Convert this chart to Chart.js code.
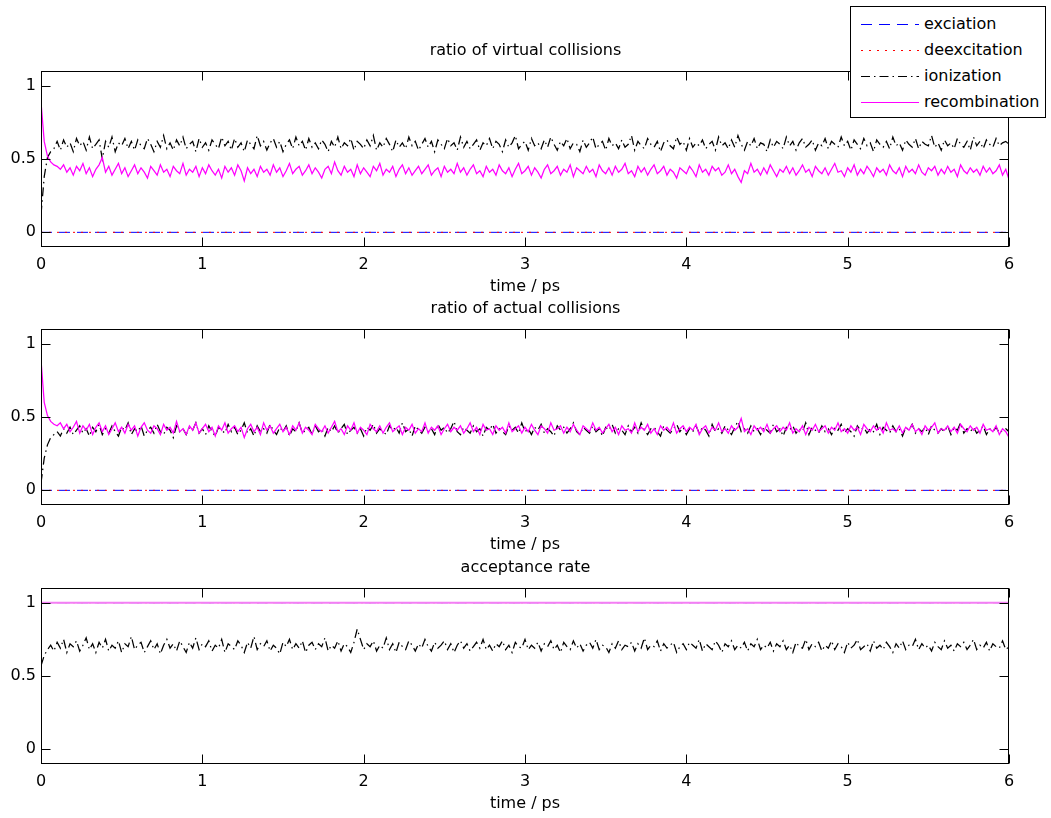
<!DOCTYPE html>
<html>
<head>
<meta charset="utf-8">
<script src="https://cdn.jsdelivr.net/npm/chart.js@4.4.1/dist/chart.umd.min.js"></script>
<style>
  html, body { margin: 0; padding: 0; background: #fff; }
  #fig { position: relative; width: 1051px; height: 818px; overflow: hidden; background: #fff; }
  #fig canvas { position: absolute; left: 0; width: 1051px; height: 271px; }
  #legend {
    position: absolute; left: 850px; top: 6px; width: 194px; height: 110px;
    border: 1px solid #000; background: #fff;
    font: 16px 'DejaVu Sans', sans-serif; color: #000;
  }
  .legend-row { position: absolute; left: 10px; height: 20px; line-height: 20px; display: flex; align-items: center; white-space: nowrap; }
  .legend-row svg { width: 58px; height: 20px; margin-right: 5px; }
</style>
</head>
<body>
<div id="fig">
  <canvas id="virtualChart" width="1051" height="271" style="top:31px"></canvas>
  <canvas id="actualChart" width="1051" height="271" style="top:289px"></canvas>
  <canvas id="acceptChart" width="1051" height="271" style="top:548px"></canvas>
  <div id="legend"></div>
</div>
<script>
const seriesNames = ['exciation', 'deexcitation', 'ionization', 'recombination'];
const plotTitles = ['ratio of virtual collisions', 'ratio of actual collisions', 'acceptance rate'];
const xTickValues = [0, 1, 2, 3, 4, 5, 6];
const yTickValues = [0, 0.5, 1];
const timeStep = 0.02;

// flat levels, start and end of the run
const levelTimes = [0, 6];
const virtualExc = [0, 0];
const virtualDeexc = [0, 0];
const actualExc = [0, 0];
const actualDeexc = [0, 0];
const acceptExc = [1, 1];
const acceptDeexc = [1, 1];
const acceptRec = [1, 1];

// noisy series, one value every timeStep ps
const virtualIon = [
  0.12,0.38,0.51,0.55,0.57,0.62,0.56,0.63,0.58,0.61,
  0.55,0.64,0.59,0.62,0.56,0.65,0.57,0.60,0.63,0.50,
  0.62,0.58,0.65,0.55,0.61,0.59,0.64,0.57,0.62,0.56,
  0.63,0.59,0.57,0.64,0.60,0.55,0.62,0.58,0.66,0.57,
  0.61,0.56,0.63,0.59,0.65,0.57,0.60,0.62,0.55,0.64,
  0.58,0.61,0.56,0.63,0.60,0.57,0.65,0.59,0.62,0.56,
  0.64,0.58,0.61,0.55,0.63,0.60,0.57,0.66,0.59,0.62,
  0.56,0.61,0.64,0.58,0.62,0.55,0.60,0.63,0.57,0.65,
  0.59,0.62,0.56,0.64,0.58,0.61,0.57,0.63,0.60,0.55,
  0.62,0.58,0.65,0.57,0.61,0.59,0.64,0.56,0.62,0.60,
  0.57,0.63,0.59,0.66,0.56,0.61,0.58,0.64,0.60,0.55,
  0.63,0.58,0.61,0.57,0.65,0.59,0.62,0.56,0.60,0.64,
  0.58,0.62,0.55,0.63,0.60,0.57,0.64,0.59,0.61,0.56,
  0.65,0.58,0.62,0.57,0.60,0.63,0.56,0.61,0.59,0.64,
  0.57,0.62,0.60,0.55,0.63,0.58,0.61,0.66,0.57,0.60,
  0.62,0.56,0.64,0.59,0.61,0.57,0.63,0.58,0.65,0.60,
  0.56,0.62,0.59,0.64,0.57,0.61,0.60,0.55,0.63,0.58,
  0.61,0.65,0.57,0.60,0.62,0.56,0.64,0.59,0.61,0.57,
  0.63,0.58,0.60,0.66,0.56,0.62,0.59,0.57,0.64,0.60,
  0.58,0.62,0.55,0.61,0.63,0.59,0.57,0.65,0.60,0.62,
  0.56,0.64,0.58,0.61,0.59,0.63,0.57,0.60,0.62,0.56,
  0.65,0.59,0.61,0.57,0.63,0.58,0.66,0.60,0.56,0.62,
  0.59,0.64,0.57,0.61,0.60,0.55,0.63,0.58,0.62,0.60,
  0.57,0.65,0.59,0.62,0.56,0.61,0.64,0.58,0.60,0.63,
  0.56,0.61,0.59,0.64,0.57,0.62,0.60,0.58,0.65,0.59,
  0.62,0.56,0.63,0.60,0.57,0.64,0.59,0.61,0.55,0.63,
  0.60,0.58,0.62,0.57,0.65,0.59,0.61,0.56,0.63,0.60,
  0.58,0.64,0.57,0.62,0.60,0.59,0.66,0.58,0.61,0.56,
  0.63,0.59,0.61,0.57,0.64,0.60,0.58,0.62,0.56,0.65,
  0.59,0.62,0.57,0.63,0.60,0.58,0.64,0.59,0.61,0.62,
  0.60
];
const virtualRec = [
  0.89,0.62,0.52,0.48,0.46,0.45,0.43,0.46,0.41,0.44,
  0.39,0.45,0.42,0.47,0.40,0.44,0.38,0.43,0.46,0.51,
  0.41,0.45,0.39,0.43,0.47,0.40,0.44,0.38,0.42,0.46,
  0.40,0.44,0.41,0.37,0.45,0.42,0.39,0.46,0.41,0.43,
  0.38,0.45,0.42,0.40,0.47,0.39,0.43,0.41,0.45,0.38,
  0.44,0.40,0.46,0.42,0.39,0.43,0.37,0.45,0.41,0.44,
  0.39,0.46,0.42,0.35,0.44,0.40,0.43,0.38,0.45,0.41,
  0.43,0.39,0.46,0.41,0.44,0.38,0.42,0.47,0.40,0.43,
  0.45,0.39,0.42,0.46,0.40,0.44,0.41,0.37,0.43,0.45,
  0.40,0.48,0.42,0.39,0.45,0.41,0.43,0.38,0.46,0.40,
  0.44,0.41,0.38,0.45,0.42,0.47,0.39,0.43,0.41,0.45,
  0.38,0.43,0.46,0.40,0.44,0.39,0.42,0.45,0.40,0.43,
  0.46,0.39,0.42,0.44,0.38,0.45,0.41,0.43,0.40,0.47,
  0.41,0.44,0.39,0.43,0.46,0.40,0.42,0.38,0.45,0.41,
  0.43,0.39,0.46,0.42,0.40,0.44,0.38,0.43,0.47,0.40,
  0.42,0.45,0.39,0.44,0.41,0.37,0.43,0.46,0.40,0.42,
  0.45,0.39,0.43,0.41,0.46,0.38,0.44,0.42,0.40,0.45,
  0.41,0.43,0.38,0.46,0.42,0.40,0.44,0.39,0.45,0.41,
  0.43,0.47,0.40,0.42,0.38,0.45,0.41,0.44,0.39,0.43,
  0.46,0.40,0.42,0.45,0.39,0.43,0.41,0.37,0.44,0.42,
  0.40,0.45,0.42,0.38,0.46,0.41,0.43,0.39,0.45,0.42,
  0.44,0.39,0.41,0.46,0.40,0.43,0.38,0.34,0.42,0.40,
  0.47,0.41,0.43,0.39,0.44,0.40,0.46,0.42,0.38,0.43,
  0.41,0.45,0.40,0.44,0.39,0.42,0.46,0.41,0.43,0.38,
  0.45,0.42,0.40,0.44,0.39,0.43,0.47,0.41,0.42,0.38,
  0.44,0.41,0.46,0.39,0.43,0.40,0.45,0.42,0.38,0.44,
  0.41,0.43,0.39,0.46,0.42,0.40,0.44,0.38,0.45,0.41,
  0.43,0.40,0.46,0.41,0.39,0.44,0.42,0.45,0.39,0.43,
  0.40,0.45,0.41,0.43,0.38,0.46,0.42,0.40,0.44,0.41,
  0.43,0.39,0.45,0.41,0.44,0.40,0.42,0.46,0.39,0.43,
  0.36
];
const actualIon = [
  0.05,0.22,0.31,0.36,0.38,0.40,0.37,0.42,0.39,0.43,
  0.38,0.41,0.44,0.39,0.42,0.37,0.43,0.40,0.45,0.38,
  0.42,0.39,0.44,0.40,0.37,0.43,0.41,0.46,0.38,0.42,
  0.40,0.44,0.37,0.41,0.43,0.39,0.45,0.40,0.38,0.43,
  0.41,0.36,0.44,0.40,0.42,0.38,0.43,0.41,0.46,0.39,
  0.42,0.38,0.44,0.40,0.37,0.43,0.41,0.39,0.45,0.40,
  0.43,0.38,0.41,0.46,0.39,0.42,0.37,0.44,0.40,0.42,
  0.39,0.45,0.41,0.38,0.43,0.40,0.44,0.37,0.42,0.40,
  0.46,0.39,0.41,0.43,0.38,0.44,0.40,0.42,0.37,0.43,
  0.40,0.44,0.39,0.42,0.45,0.38,0.41,0.43,0.39,0.42,
  0.37,0.43,0.41,0.45,0.39,0.42,0.40,0.38,0.44,0.41,
  0.43,0.39,0.46,0.40,0.42,0.37,0.44,0.41,0.39,0.43,
  0.40,0.42,0.38,0.45,0.41,0.43,0.39,0.42,0.47,0.40,
  0.38,0.43,0.41,0.39,0.44,0.40,0.42,0.37,0.43,0.41,
  0.45,0.39,0.42,0.40,0.38,0.44,0.41,0.43,0.39,0.46,
  0.40,0.42,0.38,0.43,0.41,0.45,0.39,0.42,0.40,0.37,
  0.44,0.41,0.43,0.39,0.42,0.46,0.40,0.38,0.43,0.41,
  0.39,0.44,0.40,0.42,0.37,0.43,0.41,0.45,0.39,0.42,
  0.41,0.38,0.44,0.40,0.43,0.39,0.46,0.41,0.38,0.42,
  0.43,0.40,0.37,0.44,0.41,0.39,0.42,0.45,0.40,0.43,
  0.38,0.42,0.40,0.44,0.39,0.43,0.41,0.37,0.45,0.40,
  0.42,0.39,0.44,0.41,0.38,0.43,0.47,0.40,0.42,0.39,
  0.44,0.40,0.42,0.38,0.43,0.41,0.39,0.45,0.40,0.42,
  0.37,0.43,0.41,0.44,0.39,0.42,0.40,0.46,0.38,0.43,
  0.41,0.39,0.44,0.40,0.42,0.38,0.43,0.41,0.45,0.39,
  0.42,0.40,0.37,0.44,0.41,0.43,0.39,0.42,0.40,0.45,
  0.38,0.43,0.41,0.39,0.44,0.40,0.42,0.37,0.43,0.41,
  0.45,0.39,0.42,0.40,0.43,0.38,0.44,0.41,0.39,0.42,
  0.40,0.44,0.38,0.43,0.41,0.46,0.39,0.42,0.40,0.43,
  0.39,0.41,0.44,0.38,0.42,0.40,0.43,0.39,0.41,0.42,
  0.40
];
const actualRec = [
  0.89,0.60,0.51,0.47,0.45,0.44,0.46,0.42,0.45,0.40,
  0.43,0.47,0.39,0.44,0.41,0.45,0.38,0.43,0.46,0.40,
  0.44,0.38,0.42,0.46,0.40,0.43,0.39,0.45,0.41,0.44,
  0.37,0.43,0.46,0.41,0.39,0.44,0.42,0.38,0.45,0.41,
  0.43,0.39,0.47,0.40,0.42,0.38,0.44,0.41,0.46,0.39,
  0.42,0.45,0.40,0.43,0.37,0.44,0.41,0.46,0.39,0.42,
  0.44,0.40,0.43,0.36,0.42,0.45,0.40,0.43,0.38,0.46,
  0.41,0.44,0.39,0.42,0.45,0.40,0.43,0.38,0.44,0.41,
  0.46,0.39,0.43,0.41,0.38,0.45,0.42,0.40,0.44,0.39,
  0.43,0.47,0.40,0.42,0.38,0.44,0.41,0.46,0.39,0.43,
  0.41,0.38,0.45,0.42,0.40,0.44,0.39,0.43,0.46,0.40,
  0.42,0.44,0.38,0.43,0.41,0.45,0.39,0.42,0.40,0.46,
  0.39,0.43,0.41,0.44,0.38,0.42,0.45,0.40,0.43,0.41,
  0.44,0.39,0.42,0.46,0.40,0.43,0.38,0.45,0.41,0.42,
  0.38,0.44,0.41,0.43,0.39,0.46,0.40,0.42,0.44,0.39,
  0.43,0.40,0.45,0.41,0.38,0.44,0.42,0.39,0.46,0.41,
  0.42,0.44,0.39,0.43,0.40,0.45,0.41,0.38,0.44,0.42,
  0.40,0.46,0.41,0.43,0.39,0.42,0.45,0.40,0.43,0.38,
  0.44,0.41,0.42,0.39,0.46,0.40,0.43,0.41,0.45,0.39,
  0.42,0.38,0.44,0.41,0.43,0.40,0.46,0.39,0.42,0.44,
  0.40,0.43,0.41,0.45,0.38,0.42,0.44,0.39,0.43,0.41,
  0.46,0.40,0.42,0.39,0.44,0.41,0.43,0.49,0.40,0.42,
  0.38,0.44,0.41,0.43,0.40,0.45,0.39,0.42,0.44,0.40,
  0.43,0.41,0.46,0.39,0.42,0.40,0.44,0.38,0.43,0.41,
  0.45,0.40,0.42,0.44,0.39,0.43,0.41,0.46,0.40,0.42,
  0.39,0.44,0.41,0.43,0.38,0.45,0.42,0.40,0.44,0.41,
  0.43,0.39,0.46,0.41,0.42,0.40,0.44,0.39,0.43,0.41,
  0.45,0.40,0.42,0.38,0.44,0.41,0.43,0.46,0.39,0.42,
  0.41,0.44,0.40,0.43,0.39,0.45,0.42,0.40,0.44,0.41,
  0.43,0.39,0.45,0.41,0.42,0.40,0.44,0.38,0.42,0.40,
  0.36
];
const acceptIon = [
  0.57,0.64,0.68,0.71,0.67,0.73,0.69,0.75,0.66,0.72,
  0.70,0.74,0.67,0.71,0.76,0.68,0.72,0.66,0.73,0.69,
  0.75,0.67,0.71,0.69,0.74,0.66,0.72,0.70,0.77,0.68,
  0.71,0.73,0.66,0.70,0.74,0.68,0.72,0.65,0.71,0.75,
  0.69,0.72,0.67,0.74,0.70,0.66,0.73,0.69,0.76,0.68,
  0.72,0.70,0.74,0.67,0.71,0.69,0.75,0.66,0.72,0.70,
  0.68,0.74,0.71,0.66,0.73,0.69,0.77,0.68,0.72,0.70,
  0.74,0.67,0.71,0.69,0.65,0.73,0.70,0.75,0.68,0.72,
  0.69,0.74,0.66,0.71,0.73,0.68,0.72,0.70,0.76,0.67,
  0.71,0.69,0.74,0.67,0.72,0.70,0.66,0.73,0.82,0.75,
  0.68,0.72,0.70,0.74,0.67,0.71,0.69,0.76,0.68,0.72,
  0.66,0.73,0.70,0.68,0.74,0.71,0.67,0.72,0.69,0.75,
  0.70,0.67,0.73,0.69,0.71,0.74,0.68,0.72,0.66,0.71,
  0.74,0.69,0.72,0.67,0.70,0.73,0.69,0.75,0.68,0.71,
  0.67,0.72,0.70,0.74,0.68,0.71,0.66,0.73,0.70,0.69,
  0.75,0.68,0.71,0.69,0.73,0.67,0.72,0.70,0.74,0.68,
  0.71,0.66,0.73,0.70,0.68,0.74,0.69,0.72,0.67,0.71,
  0.73,0.69,0.75,0.68,0.71,0.70,0.66,0.72,0.69,0.74,
  0.68,0.71,0.70,0.73,0.67,0.72,0.69,0.76,0.68,0.71,
  0.70,0.74,0.67,0.72,0.69,0.71,0.73,0.66,0.70,0.72,
  0.68,0.73,0.71,0.69,0.75,0.67,0.72,0.70,0.68,0.74,
  0.71,0.66,0.72,0.70,0.74,0.68,0.71,0.69,0.73,0.67,
  0.72,0.70,0.75,0.68,0.71,0.69,0.73,0.67,0.72,0.70,
  0.74,0.68,0.71,0.66,0.73,0.70,0.69,0.75,0.68,0.72,
  0.70,0.73,0.67,0.71,0.69,0.74,0.68,0.72,0.70,0.66,
  0.73,0.69,0.71,0.75,0.68,0.70,0.72,0.67,0.74,0.69,
  0.71,0.68,0.73,0.70,0.66,0.72,0.69,0.74,0.68,0.71,
  0.70,0.75,0.68,0.72,0.69,0.71,0.67,0.73,0.70,0.68,
  0.74,0.69,0.71,0.67,0.72,0.70,0.73,0.68,0.71,0.75,
  0.68,0.71,0.69,0.73,0.67,0.72,0.70,0.69,0.74,0.68,
  0.70
];

const sampleTimes = virtualIon.map((_, i) => +(i * timeStep).toFixed(2));

const lineStyles = {
  exciation: { borderColor: '#0000ff', borderDash: [11, 7] },
  deexcitation: { borderColor: '#ff0000', borderDash: [2, 6] },
  ionization: { borderColor: '#000000', borderDash: [9, 4, 1.5, 4] },
  recombination: { borderColor: '#ff00ff', borderDash: [] }
};

Chart.defaults.font.family = "'DejaVu Sans', sans-serif";
Chart.defaults.font.size = 16;
Chart.defaults.color = '#000';

function series(name, xs, ys, extra) {
  return Object.assign({
    label: name,
    data: ys.map((y, i) => ({ x: xs[i], y: y })),
    order: seriesNames.length - 1 - seriesNames.indexOf(name),
    borderWidth: xs.length > 2 ? 1.25 : 1,
    pointRadius: 0,
    fill: false,
    tension: 0
  }, lineStyles[name], extra || {});
}

// matlab style box with inward ticks on all four sides
const axesBox = {
  id: 'axesBox',
  afterDatasetsDraw(chart) {
    const { ctx, chartArea: a, scales: { x, y } } = chart;
    const L = Math.round(a.left) + 0.5, R = Math.round(a.right) - 0.5;
    const T = Math.round(a.top) + 0.5, B = Math.round(a.bottom) - 0.5;
    ctx.save();
    ctx.strokeStyle = '#000';
    ctx.lineWidth = 1;
    ctx.setLineDash([]);
    ctx.strokeRect(L, T, R - L, B - T);
    ctx.beginPath();
    x.ticks.forEach(t => {
      const px = Math.round(x.getPixelForValue(t.value)) + 0.5;
      ctx.moveTo(px, B); ctx.lineTo(px, B - 9);
      ctx.moveTo(px, T); ctx.lineTo(px, T + 9);
    });
    y.ticks.forEach(t => {
      const py = Math.round(y.getPixelForValue(t.value)) + 0.5;
      ctx.moveTo(L, py); ctx.lineTo(L + 9, py);
      ctx.moveTo(R, py); ctx.lineTo(R - 9, py);
    });
    ctx.stroke();
    ctx.restore();
  }
};

function makeChart(id, title, datasets) {
  return new Chart(document.getElementById(id), {
    type: 'line',
    data: { datasets },
    options: {
      responsive: false,
      animation: false,
      devicePixelRatio: 1,
      events: [],
      layout: { padding: 0 },
      plugins: {
        legend: { display: false },
        tooltip: { enabled: false },
        title: {
          display: true,
          text: title,
          color: '#000',
          font: { size: 16, weight: 'normal' },
          padding: { top: 10, bottom: 10.8 }
        }
      },
      scales: {
        x: {
          type: 'linear',
          min: 0,
          max: 6,
          grid: { display: false, drawTicks: false },
          border: { display: false },
          afterBuildTicks: s => { s.ticks = xTickValues.map(v => ({ value: v })); },
          afterFit: s => { s.height = 55; },
          ticks: { color: '#000', padding: 8, maxRotation: 0, autoSkip: false },
          title: { display: true, text: 'time / ps', color: '#000', padding: { top: 0, bottom: 5.4 } }
        },
        y: {
          min: -0.1,
          max: 1.1,
          grid: { display: false, drawTicks: false },
          border: { display: false },
          afterBuildTicks: s => { s.ticks = yTickValues.map(v => ({ value: v })); },
          afterFit: s => { s.width = 41; },
          ticks: { color: '#000', padding: 5, callback: v => String(v) }
        },
        y2: {
          position: 'right',
          grid: { display: false, drawTicks: false },
          border: { display: false },
          ticks: { display: false },
          afterFit: s => { s.width = 42; }
        }
      }
    },
    plugins: [axesBox]
  });
}

makeChart('virtualChart', plotTitles[0], [
  series('exciation', levelTimes, virtualExc),
  series('deexcitation', levelTimes, virtualDeexc),
  series('ionization', sampleTimes, virtualIon),
  series('recombination', sampleTimes, virtualRec)
]);

makeChart('actualChart', plotTitles[1], [
  series('exciation', levelTimes, actualExc),
  series('deexcitation', levelTimes, actualDeexc),
  series('ionization', sampleTimes, actualIon),
  series('recombination', sampleTimes, actualRec)
]);

makeChart('acceptChart', plotTitles[2], [
  series('exciation', levelTimes, acceptExc),
  series('deexcitation', levelTimes, acceptDeexc),
  series('ionization', sampleTimes, acceptIon),
  series('recombination', levelTimes, acceptRec, { borderColor: '#f47ef4', borderWidth: 2 })
]);

// legend box in the top right corner
const legendEl = document.getElementById('legend');
seriesNames.forEach((name, i) => {
  const st = lineStyles[name];
  const dash = st.borderDash.length ? st.borderDash.join(' ') : 'none';
  const row = document.createElement('div');
  row.className = 'legend-row';
  row.style.top = (7 + i * 25.9) + 'px';
  row.innerHTML = '<svg width="58" height="20"><line x1="0" y1="10.5" x2="58" y2="10.5" stroke="' +
    st.borderColor + '" stroke-width="1" stroke-dasharray="' + dash + '"/></svg><span>' + name + '</span>';
  legendEl.appendChild(row);
});
</script>
</body>
</html>
